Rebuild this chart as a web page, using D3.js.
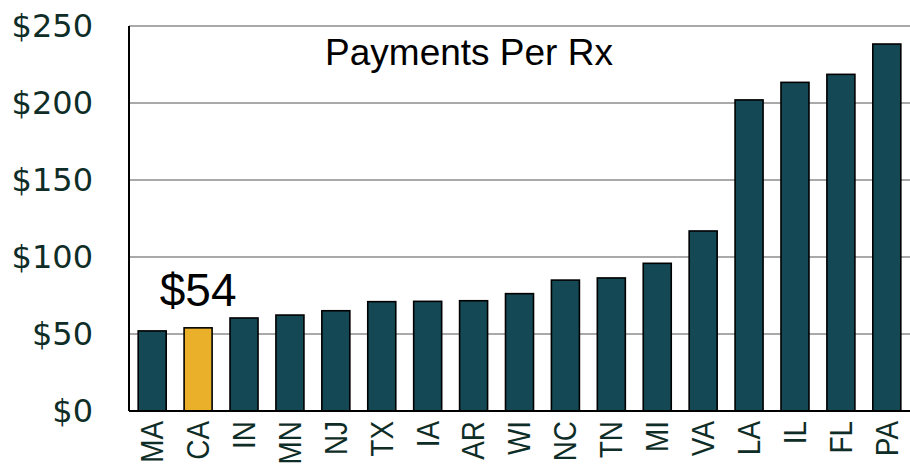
<!DOCTYPE html>
<html>
<head>
<meta charset="utf-8">
<script src="https://cdn.jsdelivr.net/npm/d3@7"></script>
<style>
  body { margin: 0; background: #fff; }
  svg { display: block; }
</style>
</head>
<body>
<div class="chart"><svg width="910" height="465"></svg></div>
<script>
// states, sorted by payment per Rx
var states = ["MA", "CA", "IN", "MN", "NJ", "TX", "IA", "AR", "WI", "NC", "TN", "MI", "VA", "LA", "IL", "FL", "PA"];
var payments = [52, 54, 60.4, 62.3, 65.1, 71, 71.2, 71.6, 76.2, 85, 86.4, 95.9, 116.9, 202, 213.4, 218.6, 238.3];
var yTicks = [0, 50, 100, 150, 200, 250];
var highlight = "CA";
var title = "Payments Per Rx";

var svg = d3.select("div.chart").select("svg");
var margin = {top: 26, right: 0, bottom: 54, left: 129},
    width = +svg.attr("width") - margin.left - margin.right,
    height = +svg.attr("height") - margin.top - margin.bottom,
    g = svg.append("g").attr("transform", "translate(" + margin.left + "," + margin.top + ")");

var x = d3.scaleBand()
    .domain(states)
    .range([0, width])
    .paddingInner(0.39)
    .paddingOuter(0.2);

var y = d3.scaleLinear()
    .domain([0, 250])
    .range([height, 0]);

// gridlines
g.append("g")
    .selectAll("line")
    .data(yTicks.filter(function(d) { return d > 0; }))
    .enter().append("line")
    .attr("x1", 0)
    .attr("x2", width)
    .attr("y1", function(d) { return y(d); })
    .attr("y2", function(d) { return y(d); })
    .attr("stroke", "#8c8c8c")
    .attr("stroke-width", 1.5);

// y axis labels
var yAxis = g.append("g")
    .call(d3.axisLeft(y).tickValues(yTicks).tickSize(0).tickPadding(36)
      .tickFormat(function(d) { return "$" + d; }));
yAxis.select(".domain").remove();
yAxis.selectAll("text")
    .attr("font-family", "DejaVu Sans")
    .attr("font-size", "32px")
    .attr("fill", "#0f2d27");

// bars
g.append("g")
    .selectAll("rect")
    .data(payments)
    .enter().append("rect")
    .attr("x", function(d, i) { return x(states[i]); })
    .attr("y", function(d) { return y(d); })
    .attr("width", x.bandwidth())
    .attr("height", function(d) { return height - y(d); })
    .attr("fill", function(d, i) { return states[i] === highlight ? "#ebb02a" : "#134854"; })
    .attr("stroke", "#000")
    .attr("stroke-width", 1.6);

// axis lines
g.append("line")
    .attr("x1", 0).attr("x2", 0)
    .attr("y1", 0).attr("y2", height)
    .attr("stroke", "#000").attr("stroke-width", 2);
g.append("line")
    .attr("x1", 0).attr("x2", width)
    .attr("y1", height).attr("y2", height)
    .attr("stroke", "#000").attr("stroke-width", 2);

// x labels, rotated
g.append("g")
    .selectAll("text")
    .data(states)
    .enter().append("text")
    .attr("transform", function(d) {
      return "translate(" + (x(d) + x.bandwidth() / 2) + "," + (height + 10) + ") rotate(-90) scale(0.9,1)";
    })
    .attr("dy", "0.35em")
    .attr("text-anchor", "end")
    .attr("font-family", "Liberation Sans")
    .attr("font-size", "31px")
    .attr("fill", "#0f2d27")
    .text(function(d) { return d; });

// callout for highlighted state
var hi = states.indexOf(highlight);
g.append("text")
    .attr("x", x(highlight) + x.bandwidth() / 2)
    .attr("y", y(payments[hi]) - 22)
    .attr("text-anchor", "middle")
    .attr("font-family", "Liberation Sans")
    .attr("font-size", "46px")
    .attr("fill", "#000")
    .text("$" + Math.round(payments[hi]));

// title
svg.append("text")
    .attr("x", 469)
    .attr("y", 65)
    .attr("text-anchor", "middle")
    .attr("font-family", "Liberation Sans")
    .attr("font-size", "37px")
    .attr("fill", "#000")
    .text(title);
</script>
</body>
</html>
